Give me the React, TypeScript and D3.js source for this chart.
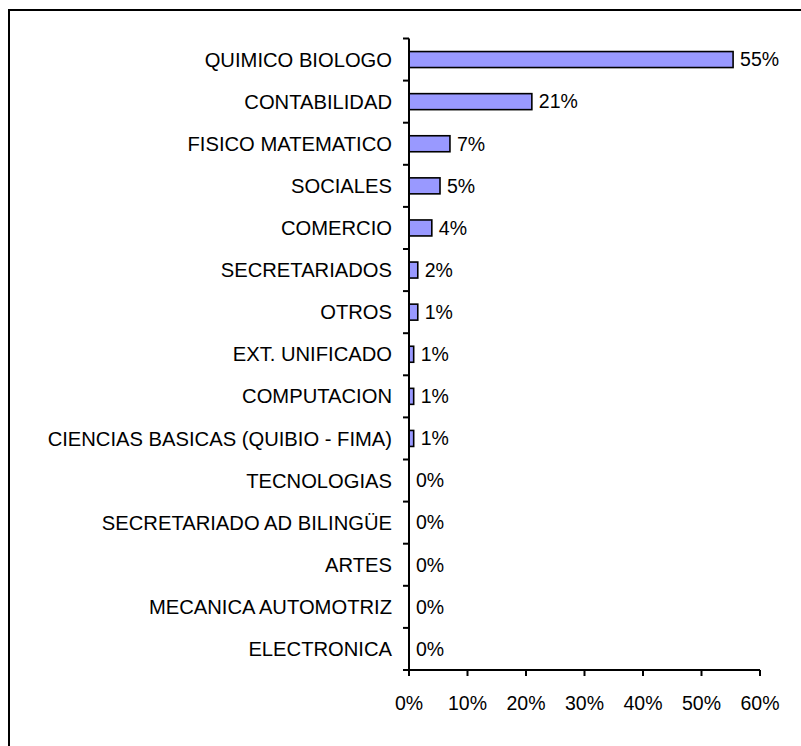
import React from "react";
import * as d3 from "d3";

const categories = [
  "QUIMICO BIOLOGO",
  "CONTABILIDAD",
  "FISICO MATEMATICO",
  "SOCIALES",
  "COMERCIO",
  "SECRETARIADOS",
  "OTROS",
  "EXT. UNIFICADO",
  "COMPUTACION",
  "CIENCIAS BASICAS (QUIBIO - FIMA)",
  "TECNOLOGIAS",
  "SECRETARIADO AD BILINGÜE",
  "ARTES",
  "MECANICA AUTOMOTRIZ",
  "ELECTRONICA",
];
const values = [0.554, 0.21, 0.07, 0.053, 0.039, 0.015, 0.015, 0.008, 0.008, 0.008, 0, 0, 0, 0, 0];
const valueLabels = ["55%", "21%", "7%", "5%", "4%", "2%", "1%", "1%", "1%", "1%", "0%", "0%", "0%", "0%", "0%"];
const xTicks = [0, 0.1, 0.2, 0.3, 0.4, 0.5, 0.6];

const W = 801;
const H = 746;
const FONT = "'Liberation Sans', Arial, sans-serif";

export default function App() {
  const x = d3.scaleLinear().domain([0, 0.6]).range([409, 760]);
  const y = d3.scaleBand<string>().domain(categories).range([38.5, 670]).paddingInner(0.62).paddingOuter(0.31);
  const step = y.step();
  const y0 = 38.5;
  const y1 = 670;
  const fmt = d3.format(".0%");

  return (
    <svg width={W} height={H} style={{ position: "absolute", left: 0, top: 0, background: "#fff" }}>
      <path d={`M9,${H + 10} V10 H${W + 10}`} fill="none" stroke="#000" strokeWidth={2} />
      {categories.map((c, i) => {
        const by = y(c)!;
        const bh = y.bandwidth();
        const cy = y0 + step * (i + 0.5);
        return (
          <g key={c}>
            {values[i] > 0 && (
              <rect x={x(0)} y={by} width={x(values[i]) - x(0)} height={bh} fill="#9999FF" stroke="#000" strokeWidth={1.6} />
            )}
            <text x={392} y={cy} dy="0.35em" textAnchor="end" fontFamily={FONT} fontSize={20.2} fill="#000">
              {c}
            </text>
            <text x={x(values[i]) + 7} y={cy} dy="0.35em" textAnchor="start" fontFamily={FONT} fontSize={19.5} fill="#000">
              {valueLabels[i]}
            </text>
          </g>
        );
      })}
      {d3.range(categories.length + 1).map((i) => (
        <line key={"yt" + i} x1={403} x2={409} y1={y0 + step * i} y2={y0 + step * i} stroke="#000" strokeWidth={2} />
      ))}
      <line x1={409} x2={409} y1={y0} y2={y1} stroke="#000" strokeWidth={2} />
      <line x1={403} x2={x(0.6)} y1={y1} y2={y1} stroke="#000" strokeWidth={2} />
      {xTicks.map((t) => (
        <g key={"xt" + t}>
          <line x1={x(t)} x2={x(t)} y1={y1} y2={y1 + 6} stroke="#000" strokeWidth={2} />
          <text x={x(t)} y={y1 + 33} dy="0.35em" textAnchor="middle" fontFamily={FONT} fontSize={19.5} fill="#000">
            {fmt(t)}
          </text>
        </g>
      ))}
    </svg>
  );
}
